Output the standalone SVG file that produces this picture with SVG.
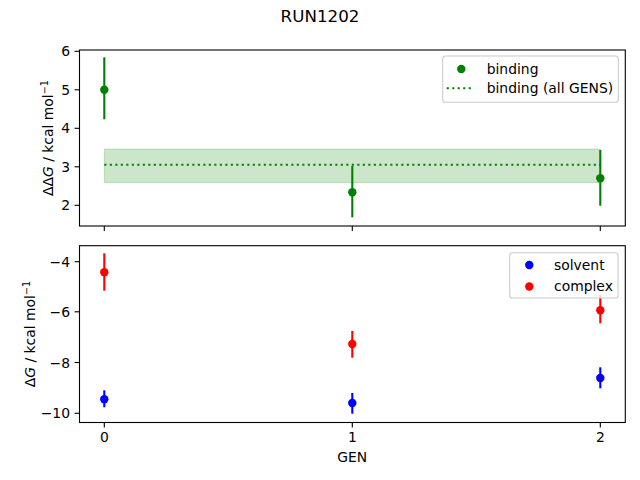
<svg xmlns="http://www.w3.org/2000/svg" width="640" height="480" viewBox="0 0 640 480">
<style>
text{font-family:"DejaVu Sans",sans-serif;font-size:13.9px;fill:#000}
.yt{text-anchor:end}
.xt{text-anchor:middle}
.spine{fill:none;stroke:#000;stroke-width:1.1}
.tick{stroke:#000;stroke-width:1.1}
.eg{stroke:#008000;stroke-width:2.1}
.eb{stroke:#0000ff;stroke-width:2.1}
.er{stroke:#ff0000;stroke-width:2.1}
.leg{fill:#fff;fill-opacity:0.8;stroke:#cccccc;stroke-width:1.1}
</style>
<rect width="640" height="480" fill="#fff"/>
<text x="320" y="22" text-anchor="middle" style="font-size:16.7px">RUN1202</text>

<g id="top-axes">
  <rect x="104.3" y="149" width="496" height="33.7" fill="#008000" fill-opacity="0.2" stroke="#008000" stroke-opacity="0.2" stroke-width="1"/>
  <line x1="104.3" y1="164.7" x2="600.3" y2="164.7" stroke="#008000" stroke-width="2.1" stroke-dasharray="2.1 3.4"/>
  <g id="binding-points">
    <line class="eg" x1="104.3" y1="57.3" x2="104.3" y2="119.3"/>
    <circle cx="104.3" cy="89.8" r="4.2" fill="#008000"/>
    <line class="eg" x1="352.3" y1="166" x2="352.3" y2="217.3"/>
    <circle cx="352.3" cy="192.3" r="4.2" fill="#008000"/>
    <line class="eg" x1="600.3" y1="150" x2="600.3" y2="205.7"/>
    <circle cx="600.3" cy="178.3" r="4.2" fill="#008000"/>
  </g>
  <rect class="spine" x="79.5" y="50" width="545.8" height="176"/>
  <g id="top-ticks">
    <line class="tick" x1="79.5" y1="205.3" x2="74.6" y2="205.3"/>
    <line class="tick" x1="79.5" y1="166.8" x2="74.6" y2="166.8"/>
    <line class="tick" x1="79.5" y1="128.3" x2="74.6" y2="128.3"/>
    <line class="tick" x1="79.5" y1="89.8" x2="74.6" y2="89.8"/>
    <line class="tick" x1="79.5" y1="51.3" x2="74.6" y2="51.3"/>
    <line class="tick" x1="104.3" y1="226" x2="104.3" y2="230.9"/>
    <line class="tick" x1="352.3" y1="226" x2="352.3" y2="230.9"/>
    <line class="tick" x1="600.3" y1="226" x2="600.3" y2="230.9"/>
    <text class="yt" x="70" y="210.3">2</text>
    <text class="yt" x="70" y="171.8">3</text>
    <text class="yt" x="70" y="133.3">4</text>
    <text class="yt" x="70" y="94.8">5</text>
    <text class="yt" x="70" y="56.3">6</text>
  </g>
  <text transform="translate(53,138) rotate(-90)" text-anchor="middle">ΔΔ<tspan font-style="italic">G</tspan> / kcal mol<tspan dy="-5" style="font-size:9.7px">−1</tspan></text>
  <g id="top-legend">
    <rect class="leg" x="442.7" y="56" width="175.6" height="46.3" rx="2.8"/>
    <circle cx="461.3" cy="69" r="4.2" fill="#008000"/>
    <text x="486.7" y="73.5">binding</text>
    <line x1="446.7" y1="88.3" x2="474.3" y2="88.3" stroke="#008000" stroke-width="2.1" stroke-dasharray="2.1 3.4"/>
    <text x="486.7" y="93.3">binding (all GENS)</text>
  </g>
</g>

<g id="bottom-axes">
  <g id="solvent-points">
    <line class="eb" x1="104.3" y1="390.3" x2="104.3" y2="407.3"/>
    <circle cx="104.3" cy="399.3" r="4.2" fill="#0000ff"/>
    <line class="eb" x1="352.3" y1="393" x2="352.3" y2="413.7"/>
    <circle cx="352.3" cy="403" r="4.2" fill="#0000ff"/>
    <line class="eb" x1="600.3" y1="367.3" x2="600.3" y2="388.3"/>
    <circle cx="600.3" cy="378" r="4.2" fill="#0000ff"/>
  </g>
  <g id="complex-points">
    <line class="er" x1="104.3" y1="253.3" x2="104.3" y2="290.7"/>
    <circle cx="104.3" cy="272.3" r="4.2" fill="#ff0000"/>
    <line class="er" x1="352.3" y1="331" x2="352.3" y2="357.7"/>
    <circle cx="352.3" cy="344" r="4.2" fill="#ff0000"/>
    <line class="er" x1="600.3" y1="295" x2="600.3" y2="323.3"/>
    <circle cx="600.3" cy="310.3" r="4.2" fill="#ff0000"/>
  </g>
  <rect class="spine" x="79.5" y="245.7" width="545.8" height="176.8"/>
  <g id="bottom-ticks">
    <line class="tick" x1="79.5" y1="261.7" x2="74.6" y2="261.7"/>
    <line class="tick" x1="79.5" y1="311.8" x2="74.6" y2="311.8"/>
    <line class="tick" x1="79.5" y1="362.5" x2="74.6" y2="362.5"/>
    <line class="tick" x1="79.5" y1="413.3" x2="74.6" y2="413.3"/>
    <text class="yt" x="70" y="266.7">−4</text>
    <text class="yt" x="70" y="316.8">−6</text>
    <text class="yt" x="70" y="367.5">−8</text>
    <text class="yt" x="70" y="418.3">−10</text>
    <line class="tick" x1="104.3" y1="422.5" x2="104.3" y2="427.4"/>
    <line class="tick" x1="352.3" y1="422.5" x2="352.3" y2="427.4"/>
    <line class="tick" x1="600.3" y1="422.5" x2="600.3" y2="427.4"/>
    <text class="xt" x="104.3" y="442">0</text>
    <text class="xt" x="352.3" y="442">1</text>
    <text class="xt" x="600.3" y="442">2</text>
  </g>
  <text x="352.3" y="462" text-anchor="middle">GEN</text>
  <text transform="translate(35,334) rotate(-90)" text-anchor="middle">Δ<tspan font-style="italic">G</tspan> / kcal mol<tspan dy="-5" style="font-size:9.7px">−1</tspan></text>
  <g id="bottom-legend">
    <rect class="leg" x="509.7" y="252.7" width="108.3" height="45.3" rx="2.8"/>
    <circle cx="529.3" cy="265" r="4.2" fill="#0000ff"/>
    <text x="554" y="269.5">solvent</text>
    <circle cx="529.3" cy="286.5" r="4.2" fill="#ff0000"/>
    <text x="554" y="291">complex</text>
  </g>
</g>
</svg>
